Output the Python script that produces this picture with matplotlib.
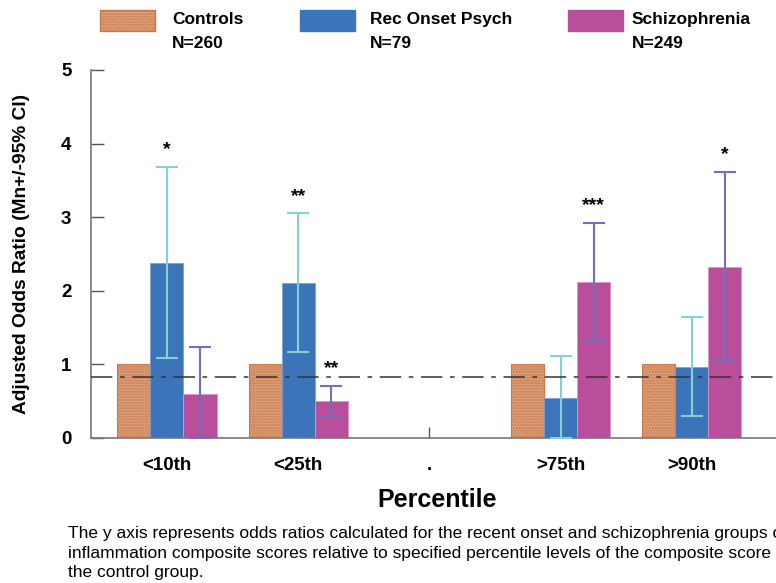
#!/usr/bin/env python3
"""
Adjusted odds ratios by percentile of the control composite score
"""
import numpy as np
import matplotlib.pyplot as plt

plt.rcParams['font.family'] = ['Liberation Sans', 'DejaVu Sans']
plt.rcParams['hatch.color'] = '#cf9670'

# data
cats = ['<10th', '<25th', '.', '>75th', '>90th']
groups = ['Controls\nN=260', 'Rec Onset Psych\nN=79', 'Schizophrenia\nN=249']
controls = [1.0, 1.0, np.nan, 1.0, 1.0]
rop = [2.38, 2.11, np.nan, 0.54, 0.96]
rop_lo = [1.09, 1.17, np.nan, 0.0, 0.29]
rop_hi = [3.68, 3.05, np.nan, 1.11, 1.64]
scz = [0.60, 0.50, np.nan, 2.12, 2.32]
scz_lo = [0.0, 0.30, np.nan, 1.32, 1.05]
scz_hi = [1.24, 0.70, np.nan, 2.92, 3.61]
rop_stars = ['*', '**', '', '', '']
scz_stars = ['', '**', '', '***', '*']
ref_line = 0.83

col_ctl = '#dca07a'
col_rop = '#3c74ba'
col_scz = '#b84e9c'
col_rop_err = '#82d2d2'
col_scz_err = '#6f6fbb'

fig = plt.figure(figsize=(7.76, 5.83), dpi=100)
ax = fig.add_axes([0.117, 0.249, 0.893, 0.631])

x = np.arange(len(cats))
w = 0.252

ax.bar(x - w, controls, w, color=col_ctl, edgecolor='#c8784a', linewidth=0.8,
       hatch='......', zorder=2)
ax.bar(x, rop, w, color=col_rop, edgecolor='#7aa0d8', linewidth=0.6, zorder=2)
ax.bar(x + w, scz, w, color=col_scz, edgecolor='#d89ac8', linewidth=0.6, zorder=2)

# confidence intervals
rop = np.array(rop)
scz = np.array(scz)
ax.errorbar(x, rop, yerr=[rop - np.array(rop_lo), np.array(rop_hi) - rop],
            fmt='none', ecolor=col_rop_err, elinewidth=1.5, capsize=8,
            capthick=1.5, zorder=3)
ax.errorbar(x + w, scz, yerr=[scz - np.array(scz_lo), np.array(scz_hi) - scz],
            fmt='none', ecolor=col_scz_err, elinewidth=1.5, capsize=8,
            capthick=1.5, zorder=3)

# significance marks
for i in range(len(cats)):
    if rop_stars[i]:
        ax.text(x[i], rop_hi[i] + 0.12, rop_stars[i], ha='center', va='bottom',
                fontsize=14, fontweight='bold')
    if scz_stars[i]:
        ax.text(x[i] + w, scz_hi[i] + 0.12, scz_stars[i], ha='center',
                va='bottom', fontsize=14, fontweight='bold')

ax.axhline(ref_line, color='#333333', linewidth=1.1,
           linestyle=(0, (14, 5, 3, 5)), zorder=4)

ax.set_xlim(-0.58, 4.7)
ax.set_ylim(0, 5)
ax.set_xticks(x)
ax.set_xticklabels(cats, fontsize=13.5, fontweight='bold')
ax.set_yticks(range(6))
ax.set_yticklabels([str(v) for v in range(6)], fontsize=13.5, fontweight='bold')
ax.tick_params(axis='y', direction='in', length=9, width=1, colors='#555555',
               labelcolor='black', pad=14)
ax.tick_params(axis='x', direction='in', length=8, width=1, colors='#555555',
               labelcolor='black', pad=14)
for s in ('top', 'right'):
    ax.spines[s].set_visible(False)
for s in ('left', 'bottom'):
    ax.spines[s].set_color('#777777')
    ax.spines[s].set_linewidth(1.2)

ax.set_ylabel('Adjusted Odds Ratio (Mn+/-95% CI)', fontsize=13.8,
              fontweight='bold', labelpad=22)
ax.set_xlabel('Percentile', fontsize=18, fontweight='bold', labelpad=10)

# legend along the top
patch_x = [100, 300, 568]
text_x = [172, 370, 632]
pcols = [col_ctl, col_rop, col_scz]
for px, tx, c, g in zip(patch_x, text_x, pcols, groups):
    r = plt.Rectangle((px / 776, 1 - 31 / 583), 55 / 776, 21 / 583,
                      transform=fig.transFigure, facecolor=c,
                      edgecolor='#c8784a' if c == col_ctl else c,
                      hatch='......' if c == col_ctl else None)
    fig.patches.append(r)
    fig.text(tx / 776, 1 - 12 / 583, g, ha='left', va='top', fontsize=12.5,
             fontweight='bold', linespacing=1.75)

caption = ('The y axis represents odds ratios calculated for the recent onset '
           'and schizophrenia groups of\n'
           'inflammation composite scores relative to specified percentile '
           'levels of the composite score in\n'
           'the control group.')
fig.text(68 / 776, 1 - 526 / 583, caption, ha='left', va='top', fontsize=12.5,
         linespacing=1.38)

fig.savefig('out.png', dpi=100)
